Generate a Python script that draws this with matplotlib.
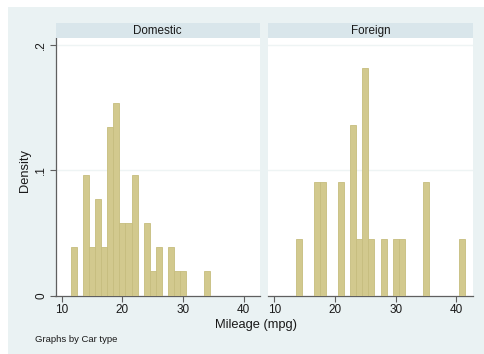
import matplotlib
matplotlib.use("Agg")
import matplotlib.pyplot as plt
from matplotlib.patches import Rectangle
import numpy as np

plt.rcParams['font.family'] = ['Liberation Sans', 'DejaVu Sans']

# Mileage (mpg) values and the number of cars at each value, by car type
domestic_mpg = [12, 14, 15, 16, 17, 18, 19, 20, 21, 22, 24, 25, 26, 28, 29, 30, 34]
domestic_count = [2, 5, 2, 4, 2, 7, 8, 3, 3, 5, 3, 1, 2, 2, 1, 1, 1]
foreign_mpg = [14, 17, 18, 21, 23, 24, 25, 26, 28, 30, 31, 35, 41]
foreign_count = [1, 2, 2, 2, 3, 1, 4, 1, 1, 1, 1, 2, 1]

panel_titles = ["Domestic", "Foreign"]
x_ticks = [10, 20, 30, 40]
y_ticks = [0, 0.1, 0.2]
y_ticklabels = ["0", ".1", ".2"]

W, H = 484, 354
fig = plt.figure(figsize=(W / 100, H / 100), dpi=100)
fig.patch.set_facecolor("white")

bg = "#eaf2f3"
strip_col = "#d9e6eb"
bar_face = "#d2c98e"
bar_edge = "#c6bd7e"
axis_col = "#5f5f5f"
grid_col = "#eef4f4"

# graph region background
fig.patches.append(Rectangle((8 / W, 0), 1 - 8 / W, 1 - 7 / H,
                             transform=fig.transFigure, facecolor=bg,
                             edgecolor="none", zorder=-10))

def fx(px):
    return px / W

def fy(py):
    return 1 - py / H

top_px, bot_px = 38, 295.5
strip_top = 23
panels = [(55.5, 260.0), (268.0, 472.7)]
data = [(domestic_mpg, domestic_count), (foreign_mpg, foreign_count)]

for i, ((l, r), (vals, cnts), title) in enumerate(zip(panels, data, panel_titles)):
    ax = fig.add_axes([fx(l), fy(bot_px), fx(r - l), (bot_px - top_px) / H])
    ax.set_facecolor("white")
    dens = np.array(cnts) / np.sum(cnts)
    ax.bar(vals, dens, width=1.0, color=bar_face, edgecolor=bar_edge,
           linewidth=0.6, zorder=3)
    ax.set_xlim(8.95, 42.7)
    ax.set_ylim(0, 0.2056)
    for yv in (0.1, 0.2):
        ax.axhline(yv, color=grid_col, lw=1.0, zorder=1)
    for s in ("top", "right"):
        ax.spines[s].set_visible(False)
    ax.spines["bottom"].set_color(axis_col)
    ax.spines["bottom"].set_linewidth(0.9)
    ax.set_xticks(x_ticks)
    ax.set_xticklabels([str(t) for t in x_ticks])
    ax.tick_params(axis="x", length=4, width=0.8, color=axis_col,
                   labelsize=8.5, pad=2, labelcolor="#1a1a1a")
    if i == 0:
        ax.spines["left"].set_color(axis_col)
        ax.spines["left"].set_linewidth(0.9)
        ax.set_yticks(y_ticks)
        ax.set_yticklabels(y_ticklabels, rotation=90, va="center")
        ax.tick_params(axis="y", length=4, width=0.8, color=axis_col,
                       labelsize=8.5, pad=2, labelcolor="#1a1a1a")
    else:
        ax.spines["left"].set_visible(False)
        ax.set_yticks([])
    # panel strip
    fig.patches.append(Rectangle((fx(l), fy(top_px)), fx(r - l),
                                 (top_px - strip_top) / H,
                                 transform=fig.transFigure, facecolor=strip_col,
                                 edgecolor="none", zorder=1))
    fig.text(fx((l + r) / 2), fy((strip_top + top_px) / 2 + 0.5), title,
             ha="center", va="center", fontsize=8.4, color="#1a1a1a")

fig.text(fx(25), fy(170), "Density", rotation=90, ha="center", va="center",
         fontsize=9.3, color="#1a1a1a")
fig.text(fx(256), fy(325), "Mileage (mpg)", ha="center", va="center",
         fontsize=9.3, color="#1a1a1a")
fig.text(fx(35), fy(339), "Graphs by Car type", ha="left", va="center",
         fontsize=6.8, color="#1a1a1a")

fig.savefig("out.png", dpi=100, facecolor=fig.get_facecolor())
